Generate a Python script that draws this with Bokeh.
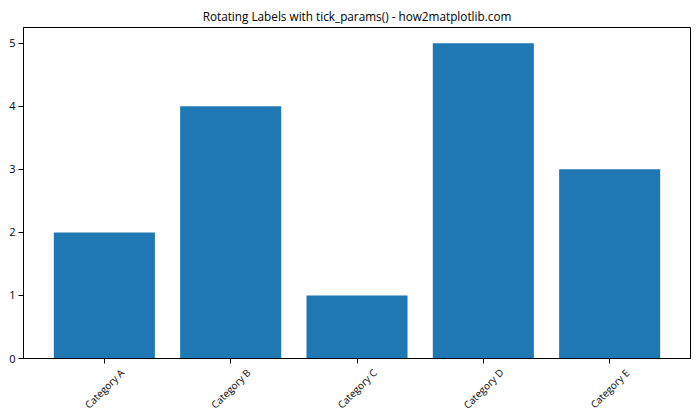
import math
from bokeh.plotting import figure
from bokeh.layouts import column
from bokeh.models import Range1d, FactorRange, FixedTicker, ColumnDataSource, CustomJSTickFormatter
from bokeh.core.properties import value
from bokeh.embed import file_html
from bokeh.resources import INLINE

categories = ["Category A", "Category B", "Category C", "Category D", "Category E"]
values = [2, 4, 1, 5, 3]
y_ticks = [0, 1, 2, 3, 4, 5]

FONT = "Open Sans"
WIDTH = 692
TOP, FRAME_H, GAP = 27, 331, 8
LEFT, RIGHT = 23, 2
TOTAL_H = 412
H1 = TOP + FRAME_H + GAP
H2 = TOTAL_H - H1
LABEL_DROP = 30  # distance of label centre below the x axis line (px)

src = ColumnDataSource(data=dict(cat=categories, val=values))
x_range = FactorRange(factors=categories, range_padding=0.056)

p = figure(
    width=WIDTH, height=H1,
    x_range=x_range, y_range=Range1d(0, 5.25),
    output_backend="svg", toolbar_location=None,
    title="Rotating Labels with tick_params() - how2matplotlib.com",
    min_border_left=LEFT, min_border_right=RIGHT, min_border_top=TOP, min_border_bottom=GAP,
)
p.vbar(x="cat", top="val", width=0.8, color="#1f77b4", line_color=None, source=src)

p.title.align = "center"
p.title.text_font = FONT
p.title.text_font_size = "11.75px"
p.title.text_font_style = "normal"
p.title.text_color = "black"
p.title.standoff = 7

p.xgrid.visible = False
p.ygrid.visible = False
p.outline_line_color = "black"
p.outline_line_width = 1
p.outline_line_alpha = 1

for ax in (p.xaxis[0], p.yaxis[0]):
    ax.axis_line_color = "black"
    ax.major_tick_line_color = "black"
    ax.major_tick_out = 5
    ax.major_tick_in = 0
    ax.minor_tick_line_color = None
    ax.major_label_text_font = FONT
    ax.major_label_text_font_size = "11px"
    ax.major_label_text_color = "black"
    ax.major_label_standoff = 3

p.yaxis[0].ticker = FixedTicker(ticks=y_ticks)
# x tick labels are drawn rotated in the strip below, centred under each tick
p.xaxis[0].formatter = CustomJSTickFormatter(code="return ''")
p.xaxis[0].major_label_text_font_size = "1px"
p.xaxis[0].major_label_standoff = 0

p2 = figure(
    width=WIDTH, height=H2,
    x_range=x_range, y_range=Range1d(-H2, 0),
    output_backend="svg", toolbar_location=None,
    x_axis_location=None, y_axis_location=None,
    min_border_left=LEFT, min_border_right=RIGHT, min_border_top=0, min_border_bottom=0,
)
p2.xgrid.visible = False
p2.ygrid.visible = False
p2.outline_line_color = None
p2.text(
    x="cat", y=-(LABEL_DROP - GAP), text="cat", source=src,
    angle=math.pi / 4, text_align="center", text_baseline="middle",
    text_font=value(FONT), text_font_size="10px", text_color="black",
)

layout = column(p, p2, spacing=0)
open("out.html", "w").write(file_html(layout, INLINE))
